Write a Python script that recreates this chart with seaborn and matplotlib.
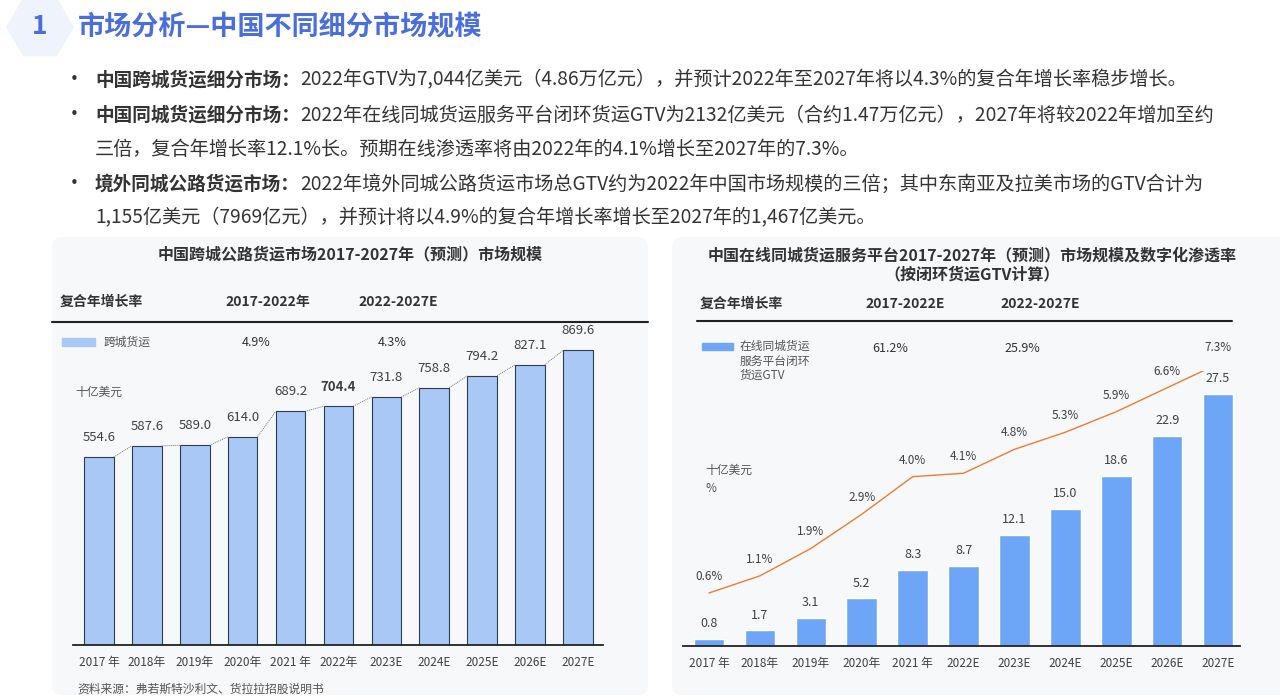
import numpy as np
import pandas as pd
import matplotlib
matplotlib.use('Agg')
import matplotlib.pyplot as plt
from matplotlib.patches import FancyBboxPatch, RegularPolygon, Rectangle
import seaborn as sns

# --- Dados ---
years_left = ['2017 年', '2018年', '2019年', '2020年', '2021 年', '2022年',
              '2023E', '2024E', '2025E', '2026E', '2027E']
cross_city = [554.6, 587.6, 589.0, 614.0, 689.2, 704.4, 731.8, 758.8, 794.2, 827.1, 869.6]

years_right = ['2017 年', '2018年', '2019年', '2020年', '2021 年', '2022E',
               '2023E', '2024E', '2025E', '2026E', '2027E']
intra_city = [0.8, 1.7, 3.1, 5.2, 8.3, 8.7, 12.1, 15.0, 18.6, 22.9, 27.5]
penetration = [0.6, 1.1, 1.9, 2.9, 4.0, 4.1, 4.8, 5.3, 5.9, 6.6, 7.3]

cagr_left = ['4.9%', '4.3%']
cagr_right = ['61.2%', '25.9%']

bullets = [
    ('中国跨城货运细分市场：', '2022年GTV为7,044亿美元（4.86万亿元），并预计2022年至2027年将以4.3%的复合年增长率稳步增长。'),
    ('中国同城货运细分市场：', '2022年在线同城货运服务平台闭环货运GTV为2132亿美元（合约1.47万亿元），2027年将较2022年增加至约'),
    ('', '三倍，复合年增长率12.1%长。预期在线渗透率将由2022年的4.1%增长至2027年的7.3%。'),
    ('境外同城公路货运市场：', '2022年境外同城公路货运市场总GTV约为2022年中国市场规模的三倍；其中东南亚及拉美市场的GTV合计为'),
    ('', '1,155亿美元（7969亿元），并预计将以4.9%的复合年增长率增长至2027年的1,467亿美元。'),
]

sns.set_theme(style='white')
plt.rcParams['font.family'] = ['Noto Sans CJK SC', 'DejaVu Sans']
plt.rcParams['axes.unicode_minus'] = False

W, H = 1280, 698
TXT = '#333333'
BLUE_T = '#4a6fdc'

fig = plt.figure(figsize=(W / 100, H / 100), dpi=100)
fig.patch.set_facecolor('white')

# camada de fundo em coordenadas de pixel
bg = fig.add_axes([0, 0, 1, 1], zorder=0)
bg.set_xlim(0, W)
bg.set_ylim(H, 0)
bg.axis('off')

def ax_rect(x0, x1, y_base, y_top):
    return [x0 / W, (H - y_base) / H, (x1 - x0) / W, (y_base - y_top) / H]

# título
bg.add_patch(RegularPolygon((40, 27), numVertices=6, radius=33, orientation=np.pi / 6,
                            color='#eff3fc', zorder=0))
bg.text(40, 27, '1', fontsize=19, fontweight='bold', color=BLUE_T, ha='center', va='center')
bg.text(78, 27, '市场分析—中国不同细分市场规模', fontsize=19.5, fontweight='bold',
        color=BLUE_T, ha='left', va='center')

# marcadores
renderer = fig.canvas.get_renderer()
ys = [80, 115, 149, 184, 218]
for (bold, rest), y in zip(bullets, ys):
    if bold:
        bg.text(64, y, '•', fontsize=15, color=TXT, ha='left', va='center')
        t = bg.text(95, y, bold, fontsize=13.4, fontweight='bold', color=TXT, ha='left', va='center')
        x_next = t.get_window_extent(renderer).x1
    else:
        x_next = 95
    bg.text(x_next, y, rest, fontsize=13.8, color=TXT, ha='left', va='center')

# painéis
for x0, x1 in [(52, 648), (672, 1290)]:
    bg.add_patch(FancyBboxPatch((x0, 237), x1 - x0, 458, boxstyle='round,pad=0,rounding_size=10',
                                facecolor='#f7f8fa', edgecolor='none', zorder=0))

# ---------- painel esquerdo ----------
bg.text(350, 254, '中国跨城公路货运市场2017-2027年（预测）市场规模', fontsize=11.5,
        fontweight='bold', color=TXT, ha='center', va='center')
bg.text(60, 302, '复合年增长率', fontsize=10, fontweight='bold', color=TXT, ha='left', va='center')
bg.text(268, 302, '2017-2022年', fontsize=10, fontweight='bold', color=TXT, ha='center', va='center')
bg.text(398, 302, '2022-2027E', fontsize=10, fontweight='bold', color=TXT, ha='center', va='center')
bg.plot([52, 648], [322, 322], color='#222222', lw=1.5)
bg.add_patch(Rectangle((62, 338), 33, 8, color='#a9c8f5'))
bg.text(104, 342, '跨城货运', fontsize=8.5, color='#555555', ha='left', va='center')
bg.text(256, 342, cagr_left[0], fontsize=9, color=TXT, ha='center', va='center')
bg.text(392, 342, cagr_left[1], fontsize=9, color=TXT, ha='center', va='center')
bg.text(75, 392, '十亿美元', fontsize=8.5, color='#555555', ha='left', va='center')
bg.text(77, 689, '资料来源：弗若斯特沙利文、货拉拉招股说明书', fontsize=8.5, color='#555555',
        ha='left', va='center')

axl = fig.add_axes(ax_rect(73, 603, 645, 306), zorder=1)
axl.patch.set_alpha(0)
df_l = pd.DataFrame({'year': years_left, 'value': cross_city})
sns.barplot(data=df_l, x='year', y='value', ax=axl, color='#a9c8f5', saturation=1,
            edgecolor='#2f3b52', linewidth=0.8, width=0.62)
axl.set_xlim(-0.54, 10.52)
axl.set_ylim(0, 1000)
n = len(cross_city)
for i in range(n - 1):
    axl.plot([i + 0.31, i + 1 - 0.31], [cross_city[i], cross_city[i + 1]],
             color='#777777', lw=0.7, ls=(0, (1, 1)))
for i, v in enumerate(cross_city):
    axl.annotate(f'{v:.1f}', (i, v), xytext=(0, 14), textcoords='offset points',
                 ha='center', va='center', fontsize=9.5, color='#404040',
                 fontweight='bold' if i == 5 else 'normal', annotation_clip=False)

# ---------- painel direito ----------
bg.text(972, 255, '中国在线同城货运服务平台2017-2027年（预测）市场规模及数字化渗透率',
        fontsize=11.5, fontweight='bold', color=TXT, ha='center', va='center')
bg.text(972, 274, '（按闭环货运GTV计算）', fontsize=11.5, fontweight='bold', color=TXT,
        ha='center', va='center')
bg.text(700, 304, '复合年增长率', fontsize=10, fontweight='bold', color=TXT, ha='left', va='center')
bg.text(905, 304, '2017-2022E', fontsize=10, fontweight='bold', color=TXT, ha='center', va='center')
bg.text(1040, 304, '2022-2027E', fontsize=10, fontweight='bold', color=TXT, ha='center', va='center')
bg.plot([697, 1232], [321, 321], color='#222222', lw=1.5)
bg.add_patch(Rectangle((702, 343), 31, 7, color='#6ea6f7'))
bg.text(740, 340, '在线同城货运\n服务平台闭环\n货运GTV', fontsize=8.5, color='#555555',
        ha='left', va='top', linespacing=1.15)
bg.text(890, 348, cagr_right[0], fontsize=9, color=TXT, ha='center', va='center')
bg.text(1022, 348, cagr_right[1], fontsize=9, color=TXT, ha='center', va='center')
bg.text(705, 470, '十亿美元', fontsize=8.5, color='#555555', ha='left', va='center')
bg.text(705, 488, '%', fontsize=8.5, color='#555555', ha='left', va='center')

axr = fig.add_axes(ax_rect(683, 1240, 646, 371), zorder=1)
axr.patch.set_alpha(0)
df_r = pd.DataFrame({'year': years_right, 'value': intra_city, 'rate': penetration})
sns.barplot(data=df_r, x='year', y='value', ax=axr, color='#6ea6f7', saturation=1, width=0.6)
axr.set_xlim(-0.51, 10.43)
axr.set_ylim(0, 30)
for i, v in enumerate(intra_city):
    axr.annotate(f'{v:.1f}', (i, v), xytext=(0, 11), textcoords='offset points',
                 ha='center', va='center', fontsize=9, color='#404040', annotation_clip=False)

axr2 = axr.twinx()
sns.lineplot(x=np.arange(len(penetration)), y=penetration, ax=axr2, color='#ed7d31', lw=1.0)
axr2.set_ylim(-0.95, 7.09)
axr2.set_xlim(-0.51, 10.43)
for i, v in enumerate(penetration):
    axr2.annotate(f'{v:.1f}%', (i, v), xytext=(0, 12), textcoords='offset points',
                  ha='center', va='center', fontsize=8.5, color='#404040', annotation_clip=False)
axr2.axis('off')

for ax in (axl, axr):
    ax.set_xlabel('')
    ax.set_ylabel('')
    ax.set_yticks([])
    for s in ('left', 'right', 'top'):
        ax.spines[s].set_visible(False)
    ax.spines['bottom'].set_color('#222222')
    ax.spines['bottom'].set_linewidth(1.3)
    ax.tick_params(axis='x', length=0, pad=8, labelsize=8.5, labelcolor='#404040')

fig.savefig('out.png', dpi=100)
